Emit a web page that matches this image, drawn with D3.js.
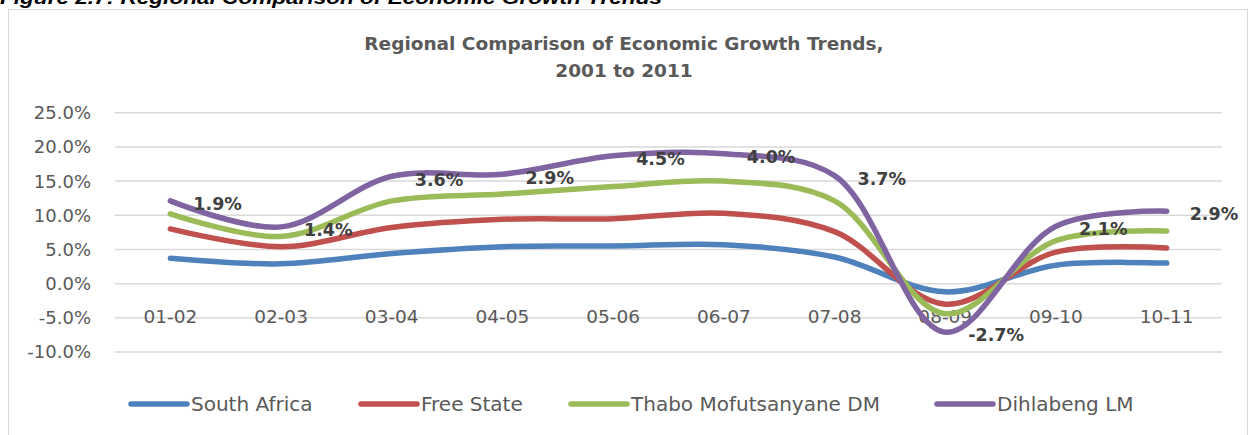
<!DOCTYPE html>
<html><head><meta charset="utf-8">
<script src="https://cdn.jsdelivr.net/npm/d3@7"></script>
<style>body{margin:0;background:#fff;}svg{display:block;}</style>
</head><body><svg id="c" width="1250" height="435"></svg>
<script>
const categories = ["01-02","02-03","03-04","04-05","05-06","06-07","07-08","08-09","09-10","10-11"];
const seriesNames = ["South Africa","Free State","Thabo Mofutsanyane DM","Dihlabeng LM"];
const southAfrica = [3.7, 2.9, 4.4, 5.4, 5.5, 5.7, 3.9, -1.2, 2.7, 3.0];
const freeState   = [4.3, 2.5, 3.8, 4.0, 4.0, 4.6, 3.7, -1.8, 1.9, 2.2];
const thabo       = [2.2, 1.5, 3.9, 3.7, 4.7, 4.7, 4.5, -1.4, 1.7, 2.5];
const dihlabeng   = [1.9, 1.4, 3.6, 2.9, 4.5, 4.0, 3.7, -2.7, 2.1, 2.9];
const yTicks = [-10, -5, 0, 5, 10, 15, 20, 25];
const colors = ["#4f81bd","#c0504d","#9bbb59","#8064a2"];

const svg = d3.select("#c");
const axisFont = "'DejaVu Sans', Verdana, sans-serif";

// figure caption (cut at top, as in the source page)
svg.append("text").attr("x", 0).attr("y", 4)
  .attr("font-family","'Liberation Sans', Arial, sans-serif").attr("font-weight","bold").attr("font-style","italic")
  .attr("font-size", 18).attr("fill","#000").attr("textLength", 662).attr("lengthAdjust","spacingAndGlyphs")
  .text("Figure 2.7: Regional Comparison of Economic Growth Trends");

// chart frame
svg.append("rect").attr("x", 8.5).attr("y", 9.5).attr("width", 1239).attr("height", 440)
  .attr("fill","#fff").attr("stroke","#d9d9d9").attr("stroke-width",1);

// title
const title = svg.append("text").attr("text-anchor","middle").attr("font-family", axisFont)
  .attr("font-weight","bold").attr("font-size", 18.5).attr("fill","#595959");
title.append("tspan").attr("x", 624).attr("y", 50).text("Regional Comparison of Economic Growth Trends,");
title.append("tspan").attr("x", 624).attr("y", 77).text("2001 to 2011");

const x = d3.scaleBand().domain(categories).range([115, 1222]);
const y = d3.scaleLinear().domain([-10, 25]).range([352, 112.7]);
const cx = c => x(c) + x.bandwidth()/2;

// gridlines
svg.append("g").selectAll("line").data(yTicks).join("line")
  .attr("x1", 115).attr("x2", 1222).attr("y1", d => y(d)).attr("y2", d => y(d))
  .attr("stroke","#d9d9d9").attr("stroke-width",1.5);

// y tick labels
svg.append("g").selectAll("text").data(yTicks).join("text")
  .attr("x", 91).attr("y", d => y(d)).attr("dy","0.36em").attr("text-anchor","end")
  .attr("font-family", axisFont).attr("font-size", 18).attr("fill","#595959")
  .text(d => d.toFixed(1) + "%");

// x labels
svg.append("g").selectAll("text").data(categories).join("text")
  .attr("x", d => cx(d)).attr("y", 316).attr("dy","0.36em").attr("text-anchor","middle")
  .attr("font-family", axisFont).attr("font-size", 18.5).attr("fill","#595959")
  .text(d => d);

// stacked data
const rows = categories.map((c, i) => ({cat: c, [seriesNames[0]]: southAfrica[i], [seriesNames[1]]: freeState[i], [seriesNames[2]]: thabo[i], [seriesNames[3]]: dihlabeng[i]}));
const stacked = d3.stack().keys(seriesNames).order(d3.stackOrderNone).offset(d3.stackOffsetNone)(rows);

const line = d3.line().x(d => cx(d.data.cat)).y(d => y(d[1])).curve(d3.curveCatmullRom.alpha(0.5));
svg.append("g").selectAll("path").data(stacked).join("path")
  .attr("d", s => line(s)).attr("fill","none").attr("stroke", (s,i) => colors[i])
  .attr("stroke-width", 5.5).attr("stroke-linecap","round").attr("stroke-linejoin","round");

// data labels for Dihlabeng
const topSeries = stacked[3];
svg.append("g").selectAll("text").data(topSeries).join("text")
  .attr("x", d => cx(d.data.cat) + 23).attr("y", d => y(d[1]) + 3).attr("dy","0.36em")
  .attr("font-family", axisFont).attr("font-weight","bold").attr("font-size", 17.5).attr("fill","#404040")
  .text((d,i) => dihlabeng[i].toFixed(1) + "%");

// legend
const legX = [131, 361, 571, 937];
const leg = svg.append("g").selectAll("g").data(seriesNames).join("g")
  .attr("transform", (d,i) => `translate(${legX[i]},404)`);
leg.append("line").attr("x1",0).attr("x2",56).attr("y1",0).attr("y2",0)
  .attr("stroke",(d,i)=>colors[i]).attr("stroke-width",5.5).attr("stroke-linecap","round");
leg.append("text").attr("x", 60).attr("y", 0).attr("dy","0.36em")
  .attr("font-family", axisFont).attr("font-size", 20).attr("fill","#595959").text(d => d);
</script></body></html>
